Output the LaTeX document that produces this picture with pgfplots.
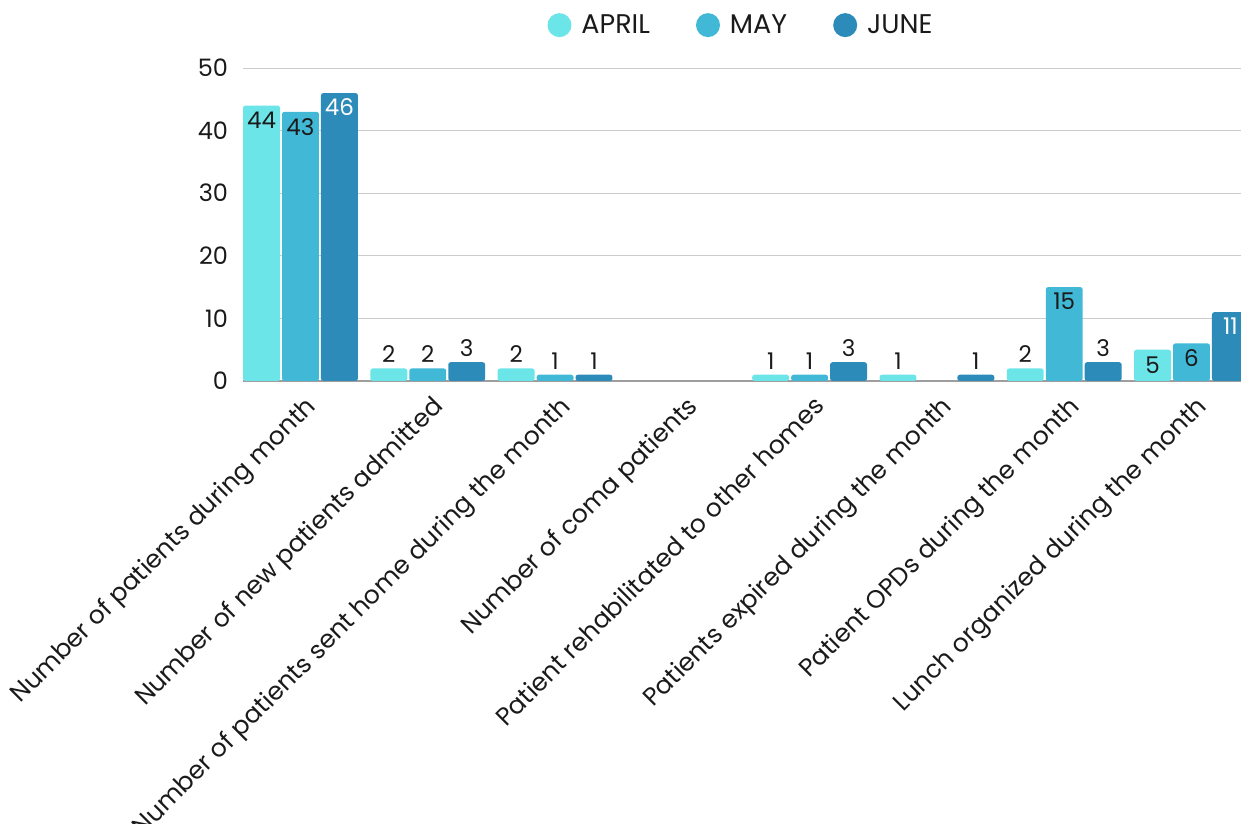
\documentclass[border=0pt]{standalone}
\usepackage{fontspec}
\setmainfont{Poppins}
\usepackage{pgfplots}
\usepackage{pgfplotstable}
\pgfplotsset{compat=1.18}
\definecolor{cApr}{HTML}{6CE5E8}
\definecolor{cMay}{HTML}{41B8D5}
\definecolor{cJun}{HTML}{2D8BBA}
\definecolor{txt}{HTML}{1A1A1A}
\pgfplotstableread{
x y off w
0 44 -7.5 0
1 2 7 0
2 2 7 0
4 1 7 0
5 1 7 0
6 2 7 0
7 5 -7.5 0
}\april
\pgfplotstableread{
x y off w
0 43 -7.5 0
1 2 7 0
2 1 7 0
4 1 7 0
6 15 -7 0
7 6 -7.5 0
}\may
\pgfplotstableread{
x y off w
0 46 -7 100
1 3 7 0
2 1 7 0
4 3 7 0
5 1 7 0
6 3 7 0
7 11 -7 100
}\june
\begin{document}
\begin{tikzpicture}
\begin{axis}[
  at={(121.5bp,221.5bp)}, anchor=south west,
  scale only axis, width=499bp, height=156.5bp,
  ybar, bar width=0.29,
  xmin=-0.4517, xmax=7.389, ymin=0, ymax=50,
  xtick={0,...,7},
  xticklabels={Number of patients during month, Number of new patients admitted, Number of patients sent home during the month, Number of coma patients, Patient rehabilitated to other homes, Patients expired during the month, Patient OPDs during the month, Lunch organized during the month},
  x tick label style={rotate=45, anchor=north east, font=\fontsize{12.5bp}{14bp}\selectfont, text=txt, xshift=-3.5bp, yshift=-5.5bp, inner sep=0pt},
  ytick={10,20,30,40,50},
  extra y ticks={0},
  extra y tick style={grid style={color=black!38, line width=1bp}},
  y tick label style={font=\fontsize{12bp}{14bp}\selectfont, text=txt, xshift=-4bp},
  /pgf/number format/assume math mode=true,
  ymajorgrids, grid style={color=black!20, line width=0.5bp},
  axis line style={draw=none},
  major tick length=0pt,
  legend columns=3,
  legend style={at={(0.5,1.137)}, anchor=center, draw=none, fill=none,
    font=\fontsize{13.5bp}{15bp}\selectfont, text=txt,
    /tikz/every odd column/.append style={column sep=3bp},
    /tikz/every even column/.append style={column sep=21bp}},
  legend image code/.code={\fill[#1] (2bp,0) circle (6bp);},
  nodes near coords,
  visualization depends on={\thisrow{off} \as \off},
  visualization depends on={\thisrow{w} \as \wv},
  every node near coord/.append style={anchor=center, yshift=\off bp, text=white!\wv!txt, font=\fontsize{11.5bp}{13bp}\selectfont, inner sep=0pt},
]
\addplot[fill=cApr, draw=none, bar shift=-0.306, rounded corners=1.2bp] table[x=x,y=y] {\april};
\addplot[fill=cMay, draw=none, bar shift=0, rounded corners=1.2bp] table[x=x,y=y] {\may};
\addplot[fill=cJun, draw=none, bar shift=0.306, rounded corners=1.2bp] table[x=x,y=y] {\june};
\legend{APRIL, MAY, JUNE}
\end{axis}
\pgfresetboundingbox
\useasboundingbox (0,0) rectangle (620.5bp,412bp);
\end{tikzpicture}
\end{document}
